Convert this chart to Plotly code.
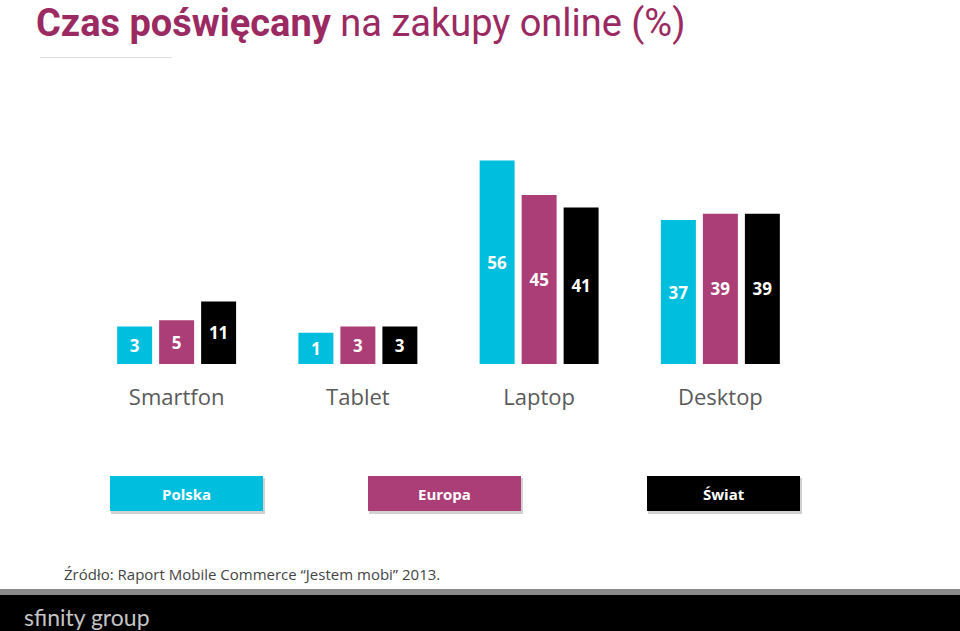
import plotly.graph_objects as go

categories = ["Smartfon", "Tablet", "Laptop", "Desktop"]
series_names = ["Polska", "Europa", "Świat"]
polska = [3, 1, 56, 37]
europa = [5, 3, 45, 39]
swiat = [11, 3, 41, 39]
series_values = [polska, europa, swiat]
series_colors = ["#00BEDE", "#AB3E76", "#000000"]

title_bold = "Czas poświęcany"
title_rest = "na zakupy online (%)"
source_text = "Źródło: Raport Mobile Commerce “Jestem mobi” 2013."
logo_text = "sfinity group"

W, H = 960, 631
L, R = 86, 811          # plot area left/right in px
T, B = 148, 364         # plot area top/bottom in px
BASE = -9               # visual offset of bar base
YMAX = 60


def px(x):
    return (x - L) / (R - L)


def py(y):
    return (B - y) / (B - T)


fig = go.Figure()
for name, vals, col in zip(series_names, series_values, series_colors):
    fig.add_trace(go.Bar(
        x=categories, y=[v - BASE for v in vals], base=BASE,
        name=name, marker=dict(color=col, line=dict(width=0)),
        text=[str(v) for v in vals], textposition="inside",
        insidetextanchor="middle", constraintext="none",
        textfont=dict(family="Open Sans", size=17, color="white", weight="bold"),
        hoverinfo="skip", showlegend=False,
    ))

shapes = []
annotations = []

# title
annotations.append(dict(
    x=px(34), y=py(-1), xref="paper", yref="paper", xanchor="left", yanchor="top",
    text=f"<b>{title_bold}</b> {title_rest}", showarrow=False,
    font=dict(family="Roboto, sans-serif", size=38, color="#9B2A62"),
))
shapes.append(dict(type="line", xref="paper", yref="paper",
                   x0=px(40), x1=px(172), y0=py(57.5), y1=py(57.5),
                   line=dict(color="#DCDCDC", width=1)))

# legend boxes
box_x = [(110, 263), (368, 521), (647, 800)]
for (x0, x1), name, col in zip(box_x, series_names, series_colors):
    shapes.append(dict(type="rect", xref="paper", yref="paper",
                       x0=px(x0 + 1), x1=px(x1 + 2), y0=py(514), y1=py(478),
                       fillcolor="rgba(0,0,0,0.18)", line=dict(width=0), layer="below"))
    shapes.append(dict(type="rect", xref="paper", yref="paper",
                       x0=px(x0), x1=px(x1), y0=py(511), y1=py(476),
                       fillcolor=col, line=dict(width=0), layer="above"))
    annotations.append(dict(
        x=px((x0 + x1) / 2), y=py(494), xref="paper", yref="paper",
        xanchor="center", yanchor="middle", text=f"<b>{name}</b>", showarrow=False,
        font=dict(family="Open Sans", size=15, color="white"),
    ))

# source
annotations.append(dict(
    x=px(62), y=py(574), xref="paper", yref="paper", xanchor="left", yanchor="middle",
    text=source_text, showarrow=False,
    font=dict(family="Open Sans", size=15, color="#444444"),
))

# footer bands
shapes.append(dict(type="rect", xref="paper", yref="paper",
                   x0=px(0), x1=px(W), y0=py(595), y1=py(589),
                   fillcolor="#8A8A8A", line=dict(width=0)))
shapes.append(dict(type="rect", xref="paper", yref="paper",
                   x0=px(0), x1=px(W), y0=py(H + 2), y1=py(595),
                   fillcolor="#000000", line=dict(width=0)))
annotations.append(dict(
    x=px(22), y=py(617), xref="paper", yref="paper", xanchor="left", yanchor="middle",
    text=logo_text, showarrow=False,
    font=dict(family="Lato, sans-serif", size=23, color="#C4C4C4"),
))

fig.update_layout(
    width=W, height=H,
    margin=dict(l=L, r=W - R, t=T, b=H - B, pad=0),
    paper_bgcolor="white", plot_bgcolor="white",
    barmode="group", bargap=0.305, bargroupgap=0.167,
    showlegend=False,
    xaxis=dict(showgrid=False, zeroline=False, showline=False, ticks="",
               tickfont=dict(family="Open Sans", size=22, color="#5A5A5A"),
               ticklabelstandoff=18, fixedrange=True),
    yaxis=dict(range=[BASE, YMAX], visible=False, fixedrange=True),
    shapes=shapes, annotations=annotations,
)

fig.write_html("out.html")
